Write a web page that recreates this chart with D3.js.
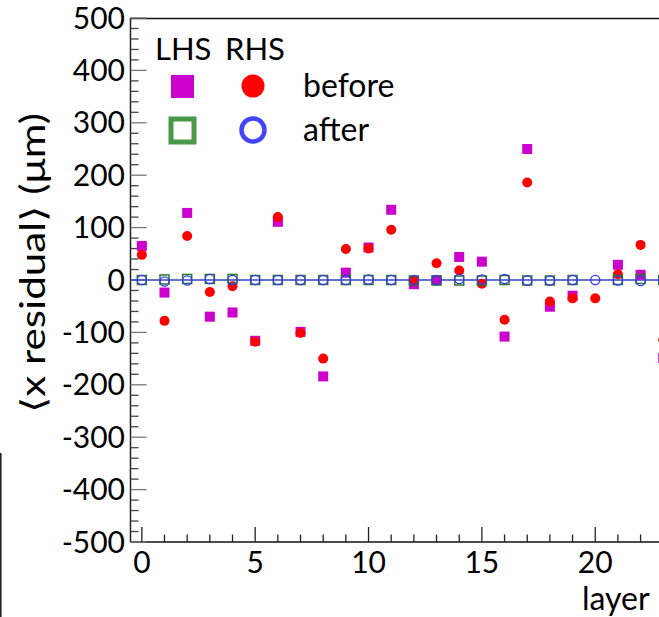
<!DOCTYPE html>
<html>
<head>
<meta charset="utf-8">
<script src="https://cdn.jsdelivr.net/npm/d3@7"></script>
<style>
  html, body { margin: 0; padding: 0; background: #fff; overflow: hidden; }
  svg { display: block; font-family: Lato, "Open Sans", sans-serif; }
</style>
</head>
<body>
<svg id="chart" width="659" height="617"></svg>
<script>
// Layer index and mean x residuals (µm) per side, before and after alignment
const layers = d3.range(0, 24);
const lhsBefore = [65, -24, 128, -70, -62, -116, 111, -99, -184, 14, 62, 134, -8, 0, 44, 35, -108, 250, -51, -30, null, 29, 10, -149];
const rhsBefore = [48, -78, 84, -23, -12, -118, 120, -101, -150, 59, 60, 96, -1, 32, 18, -7, -76, 186, -41, -35, -35, 11, 67, -114];
const lhsAfter  = [0, 1, 2, 2, 2, 0, 0, 0, 0, 0, 0, 0, -1, -1, -1, -1, 0, -1, -1, 0, null, 0, 2, 0];
const rhsAfter  = [0, -3, -1, 2, 0, 0, 0, 0, 0, 0, 1, 0, 0, 0, 2, 1, 2, -1, -1, 0, 0, -1, -2, 0];
const yTicks = [-500, -400, -300, -200, -100, 0, 100, 200, 300, 400, 500];
const xTicks = [0, 5, 10, 15, 20];

const svg = d3.select("#chart");
const plotLeft = 130.5, plotTop = 18, plotBottom = 542;
const x = d3.scaleLinear().domain([-0.5, 24.5]).range([plotLeft, plotLeft + 25 * 22.67]);
const y = d3.scaleLinear().domain([-500, 500]).range([plotBottom, plotTop]);

// frame
svg.append("line").attr("x1", plotLeft).attr("x2", 700).attr("y1", plotTop + 0.5).attr("y2", plotTop + 0.5)
  .attr("stroke", "#111").attr("stroke-width", 1.3);
svg.append("line").attr("x1", plotLeft).attr("x2", 700).attr("y1", plotBottom).attr("y2", plotBottom)
  .attr("stroke", "#111").attr("stroke-width", 1.5);
svg.append("line").attr("x1", plotLeft).attr("x2", plotLeft).attr("y1", plotTop).attr("y2", plotBottom)
  .attr("stroke", "#222").attr("stroke-width", 1.5);

// y ticks: major every 100, minor every 20
const yMinor = d3.range(-500, 501, 20);
svg.append("g").selectAll("line").data(yMinor).join("line")
  .attr("x1", plotLeft).attr("x2", d => plotLeft + (d % 100 === 0 ? 16 : 8))
  .attr("y1", d => y(d)).attr("y2", d => y(d))
  .attr("stroke", d => d % 100 === 0 ? "#777" : "#444").attr("stroke-width", 1.3);
svg.append("g").selectAll("text").data(yTicks).join("text")
  .attr("x", 125).attr("y", d => y(d) + 10.5)
  .attr("text-anchor", "end").attr("font-size", 30).attr("fill", "#000")
  .text(d => d);

// x ticks: major every 5, minor every 1
const xMinor = d3.range(0, 25, 1);
svg.append("g").selectAll("line").data(xMinor).join("line")
  .attr("x1", d => x(d)).attr("x2", d => x(d))
  .attr("y1", plotBottom).attr("y2", d => plotBottom - (d % 5 === 0 ? 15 : 7.5))
  .attr("stroke", "#222").attr("stroke-width", 1.3);
svg.append("g").selectAll("text").data(xTicks).join("text")
  .attr("x", d => x(d)).attr("y", 573)
  .attr("text-anchor", "middle").attr("font-size", 30).attr("fill", "#000")
  .text(d => d);

// axis titles
svg.append("text").attr("x", 582).attr("y", 610).attr("font-size", 32).text("layer");
svg.append("text")
  .attr("transform", "translate(45,263) rotate(-90)")
  .attr("text-anchor", "middle").attr("font-size", 34)
  .attr("textLength", 300).attr("lengthAdjust", "spacingAndGlyphs")
  .text("\u27E8x residual\u27E9 (\u03BCm)");

// edge of neighbouring panel
svg.append("line").attr("x1", 0.8).attr("x2", 0.8).attr("y1", 453).attr("y2", 617)
  .attr("stroke", "#222").attr("stroke-width", 1.6);

// zero reference line
svg.append("line").attr("x1", plotLeft).attr("x2", 700).attr("y1", y(0)).attr("y2", y(0))
  .attr("stroke", "#3344bb").attr("stroke-width", 1.6);

const pts = arr => layers.map((l, i) => ({ l, v: arr[i] })).filter(d => d.v !== null);

// before alignment
svg.append("g").selectAll("rect").data(pts(lhsBefore)).join("rect")
  .attr("x", d => x(d.l) - 5).attr("y", d => y(d.v) - 5)
  .attr("width", 10).attr("height", 10).attr("fill", "#cc00cc");
svg.append("g").selectAll("circle").data(pts(rhsBefore)).join("circle")
  .attr("cx", d => x(d.l)).attr("cy", d => y(d.v)).attr("r", 5).attr("fill", "#ff0000");

// after alignment
svg.append("g").selectAll("rect").data(pts(lhsAfter)).join("rect")
  .attr("x", d => x(d.l) - 4.5).attr("y", d => y(d.v) - 4.5)
  .attr("width", 9).attr("height", 9).attr("fill", "none")
  .attr("stroke", "#2a7a2a").attr("stroke-width", 1.5);
svg.append("g").selectAll("circle").data(pts(rhsAfter)).join("circle")
  .attr("cx", d => x(d.l)).attr("cy", d => y(d.v)).attr("r", 4.6)
  .attr("fill", "none").attr("stroke", "#3535ff").attr("stroke-width", 1.3);

// legend
const lg = svg.append("g").attr("font-size", 31);
lg.append("text").attr("x", 155).attr("y", 60).text("LHS");
lg.append("text").attr("x", 225).attr("y", 60).text("RHS");
lg.append("rect").attr("x", 171).attr("y", 75).attr("width", 23).attr("height", 23).attr("fill", "#cc00cc");
lg.append("circle").attr("cx", 253).attr("cy", 86).attr("r", 11.5).attr("fill", "#ff0000");
lg.append("rect").attr("x", 171).attr("y", 119).attr("width", 23).attr("height", 23)
  .attr("fill", "none").attr("stroke", "#4a994a").attr("stroke-width", 5);
lg.append("circle").attr("cx", 253).attr("cy", 130).attr("r", 11.5)
  .attr("fill", "none").attr("stroke", "#4444ff").attr("stroke-width", 4.5);
lg.append("text").attr("x", 303).attr("y", 97).attr("font-size", 32).text("before");
lg.append("text").attr("x", 303).attr("y", 141).attr("font-size", 32).text("after");
</script>
</body>
</html>
